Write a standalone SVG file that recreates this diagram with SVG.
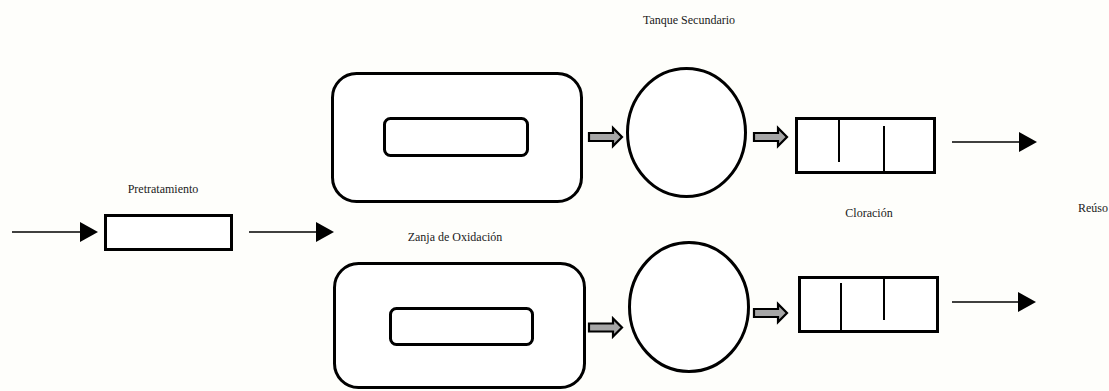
<svg xmlns="http://www.w3.org/2000/svg" width="1109" height="391" viewBox="0 0 1109 391">
<defs>
<style>
.lbl{font-size:12px;fill:#1a1a1a;text-anchor:middle}
.box{fill:#fff;stroke:#000;stroke-width:3}
.div{stroke:#000;stroke-width:2}
.con{stroke:#000;stroke-width:1.5;fill:none}
.blk{fill:#a6a6a6;stroke:#000;stroke-width:2.2;stroke-linejoin:miter}
</style>
<marker id="tri" markerUnits="userSpaceOnUse" markerWidth="18" markerHeight="20" refX="0" refY="10" orient="auto">
<path d="M0,0 L18,10 L0,20 Z" fill="#000"/>
</marker>
<path id="blkarrow" d="M0,-4 L24,-4 L24,-9 L33,0 L24,9 L24,4 L0,4 Z"/>
</defs>
<rect width="1109" height="391" fill="#fefefb"/>
<g id="connectors">
<line class="con" x1="12" y1="232" x2="80" y2="232" marker-end="url(#tri)"/>
<line class="con" x1="249" y1="232" x2="316" y2="232" marker-end="url(#tri)"/>
<line class="con" x1="952" y1="142" x2="1019" y2="142" marker-end="url(#tri)"/>
<line class="con" x1="952" y1="302" x2="1018" y2="302" marker-end="url(#tri)"/>
<use href="#blkarrow" class="blk" x="589" y="137"/>
<use href="#blkarrow" class="blk" x="754" y="137"/>
<use href="#blkarrow" class="blk" x="589" y="327.5"/>
<use href="#blkarrow" class="blk" x="754" y="313"/>
</g>
<g font-family="'Liberation Serif', 'Times New Roman', serif">
<g id="pretratamiento">
<rect class="box" x="105.5" y="215.5" width="126" height="34"/>
<text class="lbl" x="163" y="193">Pretratamiento</text>
</g>
<g id="zanja-top">
<rect class="box" x="332.5" y="73.5" width="249" height="128" rx="24"/>
<rect class="box" x="384.5" y="118.5" width="143" height="37" rx="6"/>
</g>
<g id="zanja-bottom">
<text class="lbl" x="455" y="241">Zanja de Oxidación</text>
<rect class="box" x="334.5" y="263.5" width="250" height="124" rx="24"/>
<rect class="box" x="390.5" y="308.5" width="142" height="36" rx="6"/>
</g>
<g id="tanque-top">
<text class="lbl" x="689" y="24">Tanque Secundario</text>
<ellipse class="box" cx="686.5" cy="132.5" rx="59" ry="64"/>
</g>
<g id="tanque-bottom">
<ellipse class="box" cx="689" cy="307" rx="59.5" ry="64.5"/>
</g>
<g id="cloracion-top">
<rect class="box" x="796.5" y="118.5" width="138" height="54"/>
<line class="div" x1="839" y1="118" x2="839" y2="162"/>
<line class="div" x1="884" y1="126" x2="884" y2="173"/>
</g>
<g id="cloracion-bottom">
<text class="lbl" x="869" y="217">Cloración</text>
<rect class="box" x="799.5" y="277.5" width="138" height="54"/>
<line class="div" x1="841" y1="283" x2="841" y2="331"/>
<line class="div" x1="884" y1="277" x2="884" y2="320"/>
</g>
<g id="reuso">
<text class="lbl" x="1093" y="212">Reúso</text>
</g>
</g>
</svg>
